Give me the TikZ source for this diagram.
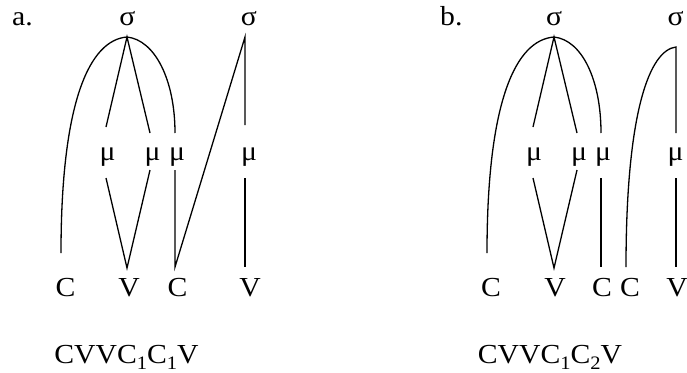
\documentclass[tikz,border=0pt]{standalone}
\usepackage{fontspec}
\setmainfont[FakeStretch=1.08]{Liberation Serif}
\newcommand{\sub}[1]{\raisebox{-0.22em}{\fontsize{19}{19}\selectfont #1}}
\begin{document}
\begin{tikzpicture}[x=1pt,y=-1pt,
  lbl/.style={inner sep=0pt,anchor=base,font=\fontsize{27.5}{32}\selectfont},
  ln/.style={line width=1.3pt}]
\useasboundingbox (0,0) rectangle (687,372);
% ---------- panel a ----------
\node[lbl,anchor=base west] (la) at (12,25) {a.};
\node[lbl] (s1) at (127.5,25) {σ};
\node[lbl] (s2) at (249,25) {σ};
\node[lbl] (m1) at (107.5,160) {μ};
\node[lbl] (m2) at (152.5,160) {μ};
\node[lbl] (m3) at (177,160) {μ};
\node[lbl] (m4) at (249,160) {μ};
\node[lbl] (c1) at (65.5,296) {C};
\node[lbl] (v1) at (129,296) {V};
\node[lbl] (c2) at (177.5,296) {C};
\node[lbl] (v2) at (250,296) {V};
\node[lbl] (wa) at (126.5,363) {CVVC\sub{1}C\sub{1}V};
\coordinate (a0) at (127,37);
\coordinate (aL) at (61,253);
\coordinate (aR) at (175,133);
\coordinate (am1t) at (106,127);
\coordinate (am2t) at (150,133);
\coordinate (am1b) at (106,178);
\coordinate (am2b) at (150,170);
\coordinate (av1) at (127,268);
\coordinate (am3b) at (175,170);
\coordinate (ac2) at (175,267);
\coordinate (b0) at (245,37);
\coordinate (bm4t) at (245,125);
\coordinate (bm4b) at (245,178);
\coordinate (av2) at (245,267);
\draw[ln] (aL) .. controls (61,100) and (90,40) .. (a0) .. controls (155,40) and (175,80) .. (aR);
\draw[ln] (am1t) -- (a0) -- (am2t);
\draw[ln] (am1b) -- (av1) -- (am2b);
\draw[ln] (am3b) -- (ac2) -- (b0) -- (bm4t);
\draw[ln] (bm4b) -- (av2);
% ---------- panel b ----------
\node[lbl,anchor=base west] (lb) at (440,25) {b.};
\node[lbl] (t1) at (554,25) {σ};
\node[lbl] (t2) at (675.5,25) {σ};
\node[lbl] (n1) at (534,160) {μ};
\node[lbl] (n2) at (579,160) {μ};
\node[lbl] (n3) at (603,160) {μ};
\node[lbl] (n4) at (675.5,160) {μ};
\node[lbl] (d1) at (491,296) {C};
\node[lbl] (e1) at (555,296) {V};
\node[lbl] (d2) at (602,296) {C};
\node[lbl] (d3) at (630,296) {C};
\node[lbl] (e2) at (677,296) {V};
\node[lbl] (wb) at (550,363) {CVVC\sub{1}C\sub{2}V};
\coordinate (p0) at (554,37);
\coordinate (pL) at (487,253);
\coordinate (pR) at (601,133);
\coordinate (pm1t) at (533,127);
\coordinate (pm2t) at (577,133);
\coordinate (pm1b) at (533,178);
\coordinate (pm2b) at (577,170);
\coordinate (pv1) at (554,268);
\coordinate (pm3b) at (601,178);
\coordinate (pc2) at (601,267);
\coordinate (q0) at (676,47);
\coordinate (qm4t) at (676,133);
\coordinate (qm4b) at (676,178);
\coordinate (pv2) at (676,267);
\coordinate (pc3) at (626,267);
\draw[ln] (pL) .. controls (487,100) and (516,40) .. (p0) .. controls (582,40) and (601,80) .. (pR);
\draw[ln] (pm1t) -- (p0) -- (pm2t);
\draw[ln] (pm1b) -- (pv1) -- (pm2b);
\draw[ln] (pm3b) -- (pc2);
\draw[ln] (pc3) .. controls (626,110) and (650,50) .. (q0) -- (qm4t);
\draw[ln] (qm4b) -- (pv2);
\end{tikzpicture}
\end{document}
